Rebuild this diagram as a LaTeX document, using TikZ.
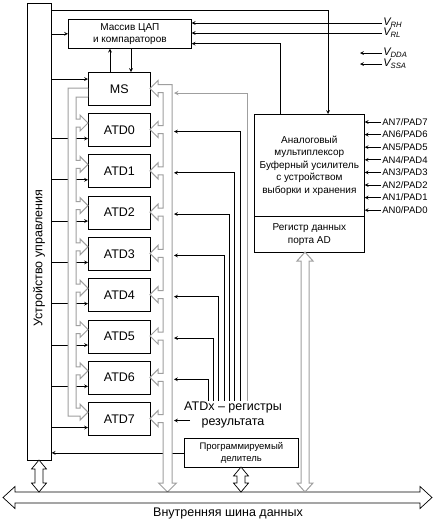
\documentclass[tikz,border=0pt]{standalone}
\usepackage{fontspec}
\setmainfont{Liberation Sans}

\begin{document}
\begin{tikzpicture}[x=1pt, y=-1pt, >=stealth, line width=0.7pt,
    box/.style={draw, inner sep=0pt, anchor=north west, align=center},
    gbus/.style={draw=gray!75, fill=white, line width=1pt},
    bbus/.style={draw, fill=white, line width=0.7pt},
    small/.style={font=\fontsize{10}{12.5}\selectfont},
    tiny/.style={font=\fontsize{9.5}{11.5}\selectfont},
    big/.style={font=\fontsize{12.5}{14.5}\selectfont}]
    \useasboundingbox (0,0) rectangle (436,520);

    \node[box, minimum width=24, minimum height=457] (ctrl) at (27,3) {};
    \node[rotate=90, big] (ctrltxt) at (39,258) {Устройство управления};

    \node[box, small, minimum width=123, minimum height=29] (dac) at (68,19) {Массив ЦАП\\и компараторов};

    \node[box, big, minimum width=62, minimum height=33] (ms) at (88,72) {MS};
    \foreach \i in {0,...,7}
        \node[box, big, minimum width=62, minimum height=33] (atd\i) at (88,{113+41.3*\i}) {ATD\i};

    \node[box, small, minimum width=110, minimum height=102] (mux) at (254,114) {Аналоговый\\мультиплексор\\Буферный усилитель\\с устройством\\выборки и хранения};
    \node[box, small, minimum width=110, minimum height=36] (port) at (254,216) {Регистр данных\\порта AD};

    \node[box, tiny, minimum width=114, minimum height=29] (div) at (184,438) {Программируемый\\делитель};

    \node[align=center, big, inner sep=1pt] (res) at (233,415) {ATDx – регистры\\результата};

    % inputs on the right
    \foreach \k in {0,...,7} {
        \node[anchor=west, tiny, inner sep=1pt] (an\k) at (381,{122+12.6*(7-\k)}) {AN\k/PAD\k};
        \draw[->] (an\k.west) -- (mux.east |- an\k.west);
    }
    \node[anchor=west, font=\fontsize{11}{13}\selectfont\itshape, inner sep=1pt] (vrh) at (382,23) {V\textsubscript{RH}};
    \node[anchor=west, font=\fontsize{11}{13}\selectfont\itshape, inner sep=1pt] (vrl) at (382,33) {V\textsubscript{RL}};
    \node[anchor=west, font=\fontsize{11}{13}\selectfont\itshape, inner sep=1pt] (vdda) at (382,53) {V\textsubscript{DDA}};
    \node[anchor=west, font=\fontsize{11}{13}\selectfont\itshape, inner sep=1pt] (vssa) at (382,64) {V\textsubscript{SSA}};
    \draw[->] (vrh.west) -- (dac.east |- vrh.west);
    \draw[->] (vrl.west) -- (dac.east |- vrl.west);
    \draw[->] (vdda.west) -- +(-22,0);
    \draw[->] (vssa.west) -- +(-22,0);

    % control lines
    \draw[->] (ctrl.east |- 0,10) -| ([xshift=74pt]mux.north west);
    \draw[->] ([xshift=26pt]mux.north west) |- ([yshift=5pt]dac.south east);
    \draw[->] (ctrl.east |- dac.west) -- (dac.west);
    \draw[->] (ctrl.east |- 0,79) -- (ms.west |- 0,79);
    \draw[->] (ms.north -| 110,0) -- (dac.south -| 110,0);
    \draw[->] (dac.south -| 131,0) -- (ms.north -| 131,0);
    \foreach \i in {0,...,7}
        \draw[->] (ctrl.east |- 0,{138.5+41.3*\i}) -- (atd\i.west |- 0,{138.5+41.3*\i});
    \draw[->] (div.west) -- (ctrl.east |- div.west);

    % result registers
    \foreach \i in {0,...,6}
        \draw[->] (res.north -| {240-5.33*\i},0) |- (174,{131.5+41.3*\i});
    \draw[->] (190,{131.5+41.3*7}) -- (174,{131.5+41.3*7});
    \draw[->, gray!75, line width=1pt] (res.north -| 247,0) |- (174,93);

    % bus from MS to ATDx
    \path[gbus] (88,97) -- (76,97)
        \foreach \i in {0,...,6} { -- (76,{119+41.3*\i}) -- (80,{119+41.3*\i}) -- (80,{115+41.3*\i}) -- (88,{123+41.3*\i})
            -- (80,{131+41.3*\i}) -- (80,{127+41.3*\i}) -- (76,{127+41.3*\i}) }
        -- (76,408.1) -- (80,408.1) -- (80,404.1) -- (88,412.1) -- (80,420.1) -- (80,416.1) -- (68,416.1) -- (68,88) -- (88,88);

    % bus from ATDx to data bus
    \draw[gbus] (150,88.5) -- (158,80.5) -- (158,84.5) -- (172,84.5) -- (172,483) -- (176.5,483) -- (167.5,492) -- (158.5,483) -- (163,483)
        \foreach \i in {7,...,0} { -- (163,{133.5+41.3*\i}) -- (158,{133.5+41.3*\i}) -- (158,{137.5+41.3*\i}) -- (150,{129.5+41.3*\i})
            -- (158,{121.5+41.3*\i}) -- (158,{125.5+41.3*\i}) -- (163,{125.5+41.3*\i}) }
        -- (163,92.5) -- (158,92.5) -- (158,96.5) -- cycle;

    % internal data bus
    \draw[bbus] (3,497.5) -- (15,486.5) -- (15,492) -- (420,492) -- (420,486.5) -- (432,497.5) -- (420,508.5) -- (420,503) -- (15,503) -- (15,508.5) -- cycle;
    \node[big] (buslbl) at (228,513) {Внутренняя шина данных};

    \draw[bbus] (39,460) -- (46.5,469) -- (43,469) -- (43,483) -- (46.5,483) -- (39,492) -- (31.5,483) -- (35,483) -- (35,469) -- (31.5,469) -- cycle;
    \draw[bbus] (241,467) -- (248.5,476) -- (245,476) -- (245,483) -- (248.5,483) -- (241,492) -- (233.5,483) -- (237,483) -- (237,476) -- (233.5,476) -- cycle;
    \draw[gbus] (305,252) -- (313,261) -- (309,261) -- (309,483) -- (313,483) -- (305,492) -- (297,483) -- (301,483) -- (301,261) -- (297,261) -- cycle;
\end{tikzpicture}
\end{document}
